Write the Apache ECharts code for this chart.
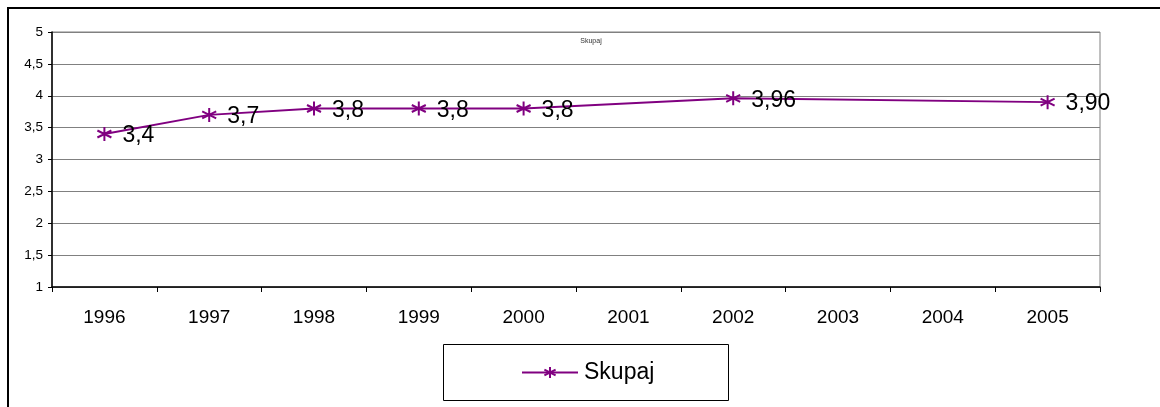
<!DOCTYPE html>
<html>
<head>
<meta charset="utf-8">
<script src="https://cdn.jsdelivr.net/npm/echarts@6/dist/echarts.min.js"></script>
<style>html,body{margin:0;padding:0;background:#fff}#c{width:1160px;height:407px}</style>
</head>
<body>
<div id="c"></div>
<script>
var categories = ['1996','1997','1998','1999','2000','2001','2002','2003','2004','2005'];
var values = [3.4, 3.7, 3.8, 3.8, 3.8, null, 3.96, null, null, 3.90];
var valueLabels = ['3,4','3,7','3,8','3,8','3,8','','3,96','','','3,90'];
var seriesName = 'Skupaj';
var yMin = 1, yMax = 5, yStep = 0.5;

var chart = echarts.init(document.getElementById('c'), null, {renderer:'canvas'});
var starPath = 'path://M0,-10L0,10M-8.66,-5L8.66,5M-8.66,5L8.66,-5';
chart.setOption({
  animation: false,
  backgroundColor: '#fff',
  textStyle: {fontFamily: 'Liberation Sans, Arial, sans-serif'},
  title: {
    text: seriesName, left: 586, top: 33, textAlign: 'center',
    textStyle: {fontSize: 7, fontWeight: 'normal', color: '#333'}
  },
  graphic: [{
    type: 'rect', shape: {x: 8, y: 8, width: 1200, height: 500},
    style: {fill: 'none', stroke: '#000', lineWidth: 2}, silent: true, z: 100
  }, {
    type: 'rect', shape: {x: 443.5, y: 344.5, width: 285, height: 56},
    style: {fill: 'none', stroke: '#000', lineWidth: 1}, silent: true
  }],
  legend: {
    left: 521, top: 361, padding: 0, itemWidth: 56, itemHeight: 14, itemGap: 0,
    textStyle: {fontSize: 23, color: '#000', padding: [0,0,0,1]},
    data: [seriesName]
  },
  grid: {left: 52, right: 60, top: 32, bottom: 120, show: true, borderColor: '#808080', borderWidth: 1},
  xAxis: {
    type: 'category', data: categories, boundaryGap: true,
    axisLine: {lineStyle: {color: '#000', width: 1.5}},
    axisTick: {show: true, length: 5, inside: false, lineStyle: {color: '#000'}},
    axisLabel: {fontSize: 19, color: '#000', margin: 21}
  },
  yAxis: {
    type: 'value', min: yMin, max: yMax, interval: yStep,
    axisLine: {show: true, lineStyle: {color: '#000', width: 1.5}},
    axisTick: {show: true, length: 4, lineStyle: {color: '#000'}},
    axisLabel: {fontSize: 13.5, color: '#000', margin: 9, formatter: function(v){ return String(v).replace('.', ','); }},
    splitLine: {lineStyle: {color: '#808080', width: 1}}
  },
  series: [{
    name: seriesName, type: 'line', data: values, connectNulls: true,
    symbol: starPath, symbolSize: 14, showAllSymbol: true,
    lineStyle: {color: '#800080', width: 2},
    itemStyle: {color: '#800080', borderColor: '#800080', borderWidth: 2},
    label: {
      show: true, position: 'right', distance: 10, offset: [0, 2], fontSize: 23, color: '#000',
      formatter: function(p){ return valueLabels[p.dataIndex]; }
    }
  }]
});
</script>
</body>
</html>
